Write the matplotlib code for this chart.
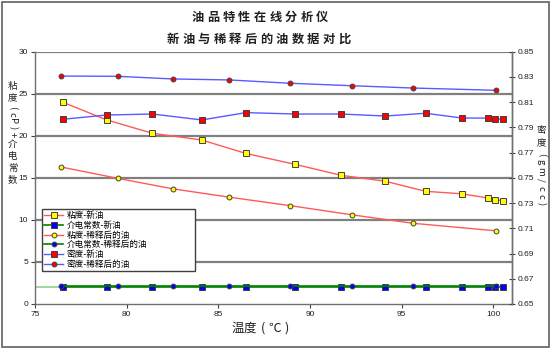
import matplotlib
matplotlib.use("Agg")
import matplotlib.pyplot as plt
from matplotlib.patches import Rectangle

plt.rcParams['font.family'] = ['Noto Sans CJK SC', 'DejaVu Sans']

# ---- data ----
x_new = [76.5, 78.9, 81.4, 84.1, 86.5, 89.2, 91.7, 94.1, 96.3, 98.3, 99.7, 100.1, 100.5]
visc_new = [24.0, 21.9, 20.3, 19.5, 17.9, 16.6, 15.3, 14.6, 13.4, 13.1, 12.6, 12.4, 12.3]
diel_new = [2.05] * 13
dens_new = [0.7964, 0.7998, 0.8006, 0.7959, 0.8017, 0.8006, 0.8006, 0.7990, 0.8012,
            0.7974, 0.7974, 0.7969, 0.7964]

x_dil = [76.4, 79.5, 82.5, 85.6, 88.9, 92.3, 95.6, 100.15]
visc_dil = [16.3, 14.95, 13.7, 12.7, 11.7, 10.6, 9.6, 8.7]
diel_dil = [2.15] * 8
dens_dil = [0.8307, 0.8305, 0.8284, 0.8276, 0.8250, 0.8230, 0.8212, 0.8194]

labels = ['粘度-新油', '介电常数-新油', '粘度-稀释后的油', '介电常数-稀释后的油',
          '密度-新油', '密度-稀释后的油']
title1 = '油品特性在线分析仪'
title2 = '新油与稀释后的油数据对比'
xlabel = '温度(℃)'
ylabel_left = '粘度(cP)+介电常数'
ylabel_right = '密度(gm/cc)'

W, H = 554, 351
fig = plt.figure(figsize=(W / 100, H / 100), dpi=100)
fig.patch.set_facecolor('white')

def fx(px):
    return px / W

def fy(py):
    return 1 - py / H

ax = fig.add_axes([fx(35), fy(304), fx(511.7) - fx(35), fy(51.7) - fy(304)])
ax2 = ax.twinx()

ax.set_xlim(75, 101)
ax.set_ylim(0, 30)
ax2.set_ylim(0.65, 0.85)
ax.set_xticks([75, 80, 85, 90, 95, 100])
ax.set_yticks([0, 5, 10, 15, 20, 25, 30])
ax2.set_yticks([0.65 + 0.02 * i for i in range(11)])
ax2.set_yticklabels(['%.2f' % (0.65 + 0.02 * i) for i in range(11)])

for y in [5, 10, 15, 20, 25, 30]:
    ax.axhline(y, color='#808080', lw=1.6, zorder=0.5)

for lab in ax.get_xticklabels() + ax.get_yticklabels() + ax2.get_yticklabels():
    lab.set_fontfamily('Liberation Sans')
    lab.set_fontsize(6)
    lab.set_color('#202020')
ax.tick_params(axis='both', length=3, width=0.8, color='#404040', pad=2)
ax2.tick_params(axis='y', direction='inout', length=5, width=0.8, color='#404040', pad=2)

for a in (ax, ax2):
    for s in a.spines.values():
        s.set_color('#707070')
        s.set_linewidth(1.0)
ax.spines['top'].set_visible(False)
ax2.spines['top'].set_visible(False)
ax2.spines['left'].set_visible(False)
ax2.spines['bottom'].set_visible(False)

red_line = '#FF5A5A'
blue_line = '#5A5AFF'
green_line = '#008000'
edge = '#404040'

# light green lead-in segment at left
ax.plot([75, x_dil[0]], [diel_new[0], diel_new[0]], color='#90D090', lw=1.2, zorder=1)

h1, = ax.plot(x_new, visc_new, color=red_line, lw=1.0, marker='s', ms=4,
              mfc='#FFFF00', mec=edge, mew=0.7, zorder=3)
h2, = ax.plot(x_new, diel_new, color=green_line, lw=1.2, marker='s', ms=4,
              mfc='#0000FF', mec=edge, mew=0.7, zorder=3)
h3, = ax.plot(x_dil, visc_dil, color=red_line, lw=1.0, marker='o', ms=3.5,
              mfc='#FFFF00', mec=edge, mew=0.7, zorder=3)
h4, = ax.plot(x_dil, diel_dil, color=green_line, lw=1.2, marker='o', ms=3.5,
              mfc='#0000FF', mec=edge, mew=0.7, zorder=3)
h5, = ax2.plot(x_new, dens_new, color=blue_line, lw=1.0, marker='s', ms=4,
               mfc='#FF0000', mec=edge, mew=0.7, zorder=3)
h6, = ax2.plot(x_dil, dens_dil, color=blue_line, lw=1.0, marker='o', ms=3.5,
               mfc='#FF0000', mec=edge, mew=0.7, zorder=3)

# legend box in axes fraction: x 42..195 px, y 209..269 px
lx0 = (42 - 35) / 476.7
lw_ = (195 - 42) / 476.7
ly0 = (304 - 269) / 252.3
lh = (269 - 209) / 252.3
leg = ax2.legend([h1, h2, h3, h4, h5, h6], labels, loc='upper left',
                 bbox_to_anchor=(lx0, ly0, lw_, lh), mode='expand',
                 fontsize=6.2, frameon=True,
                 fancybox=False, edgecolor='#404040', framealpha=1,
                 handlelength=2.2, handletextpad=0.4, labelspacing=0.08,
                 borderpad=0.25, borderaxespad=0)
leg.get_frame().set_linewidth(1.0)

def spaced_text(text, cx, cy, pitch, size, weight='normal'):
    n = len(text)
    start = cx - pitch * (n - 1) / 2
    for i, ch in enumerate(text):
        fig.text(fx(start + i * pitch), fy(cy), ch, ha='center', va='center',
                 fontsize=size, fontweight=weight, color='#202020')

# titles
spaced_text(title1, 260, 17.5, 15.6, 8.8, 'bold')
spaced_text(title2, 258.5, 39, 15.6, 8.8, 'bold')

# x label
spaced_text(xlabel, 262.5, 328, 12.3, 9)

def vertical_label(text, xpx, ypx_start, cjk_adv, lat_adv, size=6.8):
    y = ypx_start
    for ch in text:
        cjk = ord(ch) > 0x2E80
        if cjk:
            adv = cjk_adv
        elif ch in '()':
            adv = lat_adv - 1
        elif ch == 'm':
            adv = lat_adv + 2
        else:
            adv = lat_adv
        rot = 0 if cjk else -90
        fig.text(fx(xpx), fy(y + adv / 2), ch, ha='center', va='center',
                 fontsize=size, rotation=rot, color='#202020')
        y += adv

vertical_label(ylabel_left, 12.5, 81, 12, 7)
vertical_label(ylabel_right, 541, 123, 14, 8)

# outer border
fig.patches.append(Rectangle((fx(2), fy(347)), fx(549) - fx(2), fy(2) - fy(347),
                             transform=fig.transFigure, fill=False,
                             edgecolor='#606060', lw=1.2))

fig.savefig('out.png', dpi=100, facecolor='white')
